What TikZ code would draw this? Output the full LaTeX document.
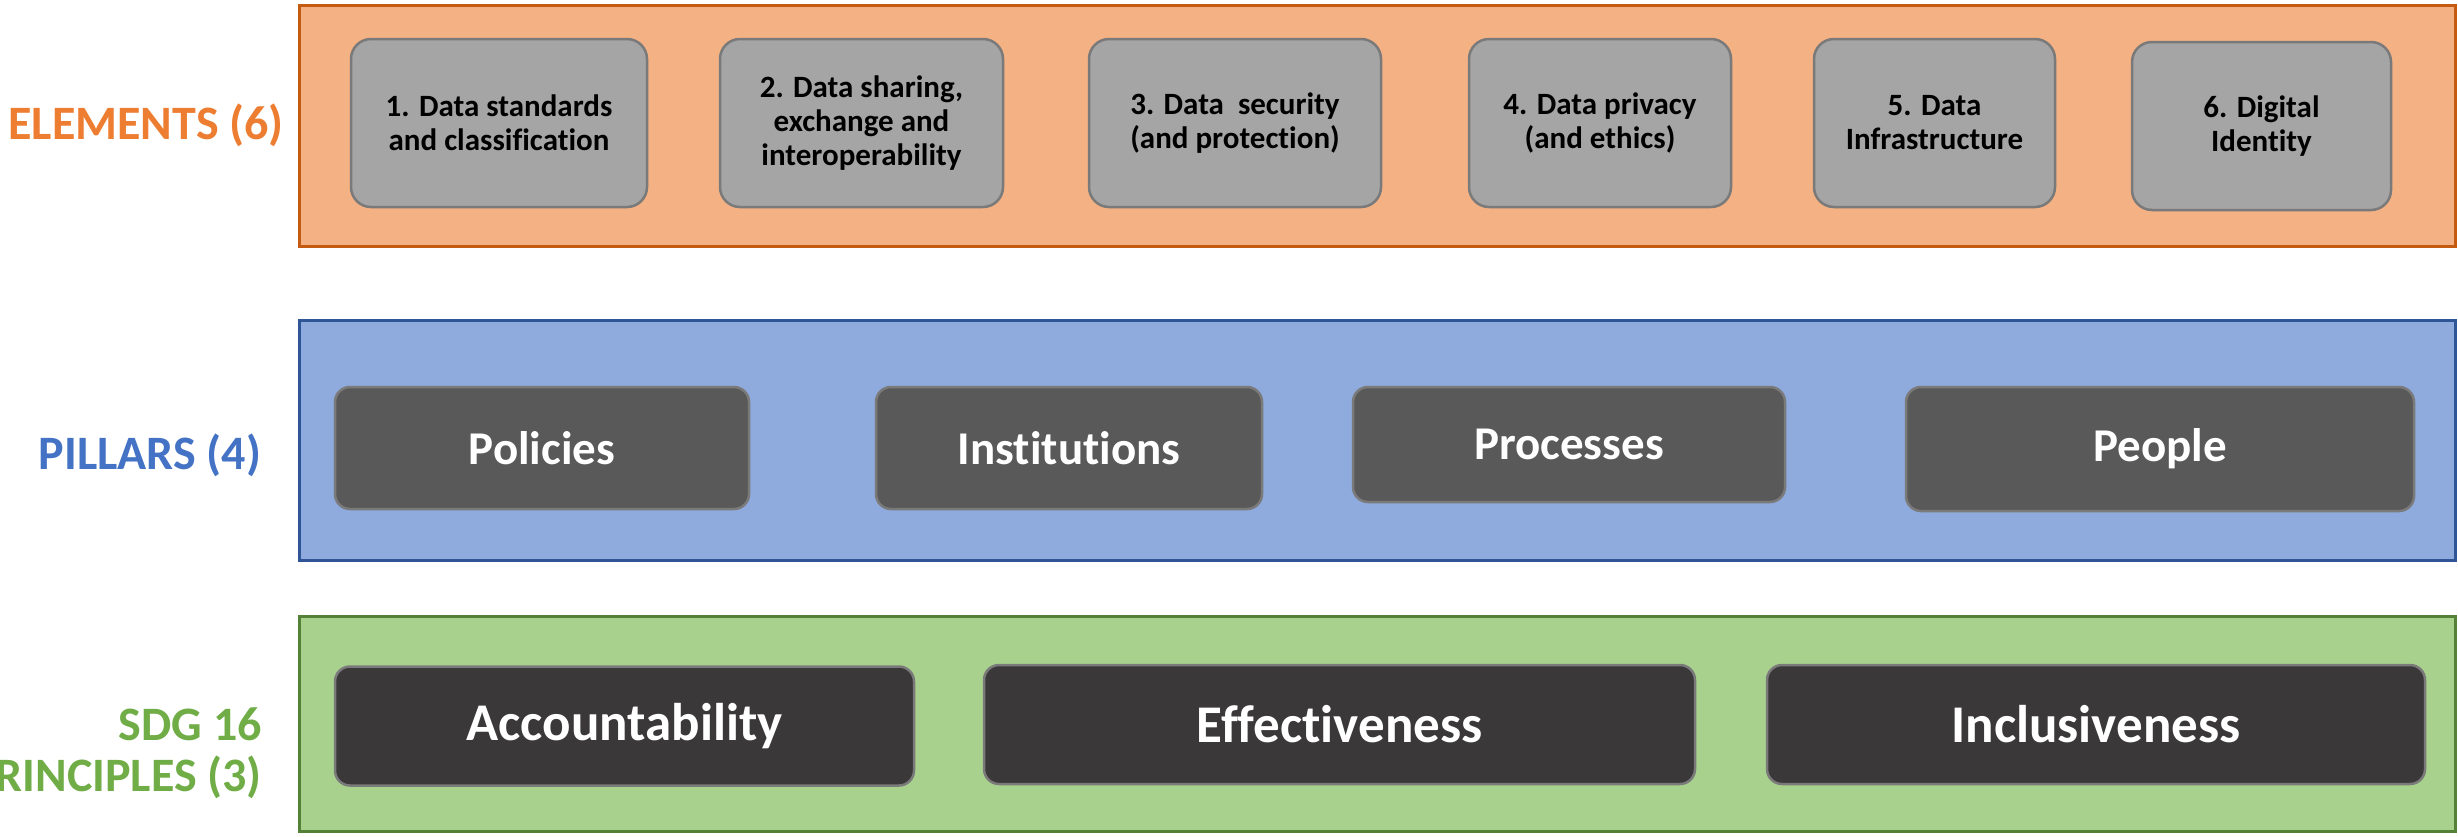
\documentclass[tikz,border=0pt]{standalone}
\usepackage{fontspec}
\setmainfont{Carlito}[Ligatures=NoCommon]
\definecolor{orfill}{HTML}{F4B183}
\definecolor{ordraw}{HTML}{C55A11}
\definecolor{ortext}{HTML}{ED7D31}
\definecolor{blfill}{HTML}{8FAADC}
\definecolor{bldraw}{HTML}{2F5597}
\definecolor{bltext}{HTML}{4472C4}
\definecolor{grfill}{HTML}{A9D18E}
\definecolor{grdraw}{HTML}{538135}
\definecolor{grtext}{HTML}{70AD47}
\definecolor{elfill}{HTML}{A5A5A5}
\definecolor{pifill}{HTML}{595959}
\definecolor{prfill}{HTML}{3A3838}
\definecolor{boxdraw}{HTML}{7A7A7A}
\tikzset{
  band/.style={draw=#1, line width=3pt, rectangle, inner sep=0pt},
  elbox/.style={draw=boxdraw, fill=elfill, line width=2.5pt, rounded corners=20pt, inner sep=0pt,
    minimum height=168pt, align=center, text=black, font=\fontsize{31}{34}\selectfont\bfseries},
  pibox/.style={draw=boxdraw, fill=pifill, line width=2.5pt, rounded corners=15pt, inner sep=0pt,
    align=center, text=white, font=\fontsize{47}{52}\selectfont\bfseries},
  prbox/.style={draw=boxdraw, fill=prfill, line width=2.5pt, rounded corners=15pt, inner sep=0pt,
    minimum height=119pt, align=center, text=white, font=\fontsize{53}{60}\selectfont\bfseries},
  lbl/.style={font=\fontsize{48}{56}\selectfont\bfseries, inner sep=0pt}
}
\begin{document}
\begin{tikzpicture}[x=1pt,y=-1pt]
\useasboundingbox (0,0) rectangle (2458,836);
% bands
\node[band=ordraw, fill=orfill, minimum width=2156pt, minimum height=241pt] (elband) at (1377,125.5) {};
\node[band=bldraw, fill=blfill, minimum width=2156pt, minimum height=240pt] (piband) at (1377,440) {};
\node[band=grdraw, fill=grfill, minimum width=2156pt, minimum height=215pt] (prband) at (1377,723.5) {};
% labels
\node[lbl, text=ortext] (ellbl) at (146,125) {ELEMENTS (6)};
\node[lbl, text=bltext] (pilbl) at (150,455) {PILLARS (4)};
\node[lbl, text=grtext, anchor=east] (prlbl1) at (262,724) {SDG 16};
\node[lbl, text=grtext, anchor=east] (prlbl2) at (262,777) {PRINCIPLES (3)};
% elements
\node[elbox, minimum width=296pt] (e1) at (499,123) {1. Data standards\\and classification};
\node[elbox, minimum width=283pt] (e2) at (861.5,123) {2. Data sharing,\\exchange and\\interoperability};
\node[elbox, minimum width=292pt] (e3) at (1235,123) {3. Data\ \ security\\(and protection)};
\node[elbox, minimum width=262pt] (e4) at (1600,123) {4. Data privacy\\(and ethics)};
\node[elbox, minimum width=241pt] (e5) at (1934.5,123) {5. Data\\Infrastructure};
\node[elbox, minimum width=259pt] (e6) at (2261.5,126) {6. Digital\\Identity};
% pillars
\node[pibox, minimum width=414pt, minimum height=122pt] (p1) at (542,448) {Policies};
\node[pibox, minimum width=386pt, minimum height=122pt] (p2) at (1069,448) {Institutions};
\node[pibox, minimum width=432pt, minimum height=115pt] (p3) at (1569,444.5) {Processes};
\node[pibox, minimum width=508pt, minimum height=124pt] (p4) at (2160,449) {People};
% principles
\node[prbox, minimum width=579pt] (r1) at (624.5,726) {Accountability};
\node[prbox, minimum width=711pt] (r2) at (1339.5,724.5) {Effectiveness};
\node[prbox, minimum width=658pt] (r3) at (2096,724.5) {Inclusiveness};
\end{tikzpicture}
\end{document}
